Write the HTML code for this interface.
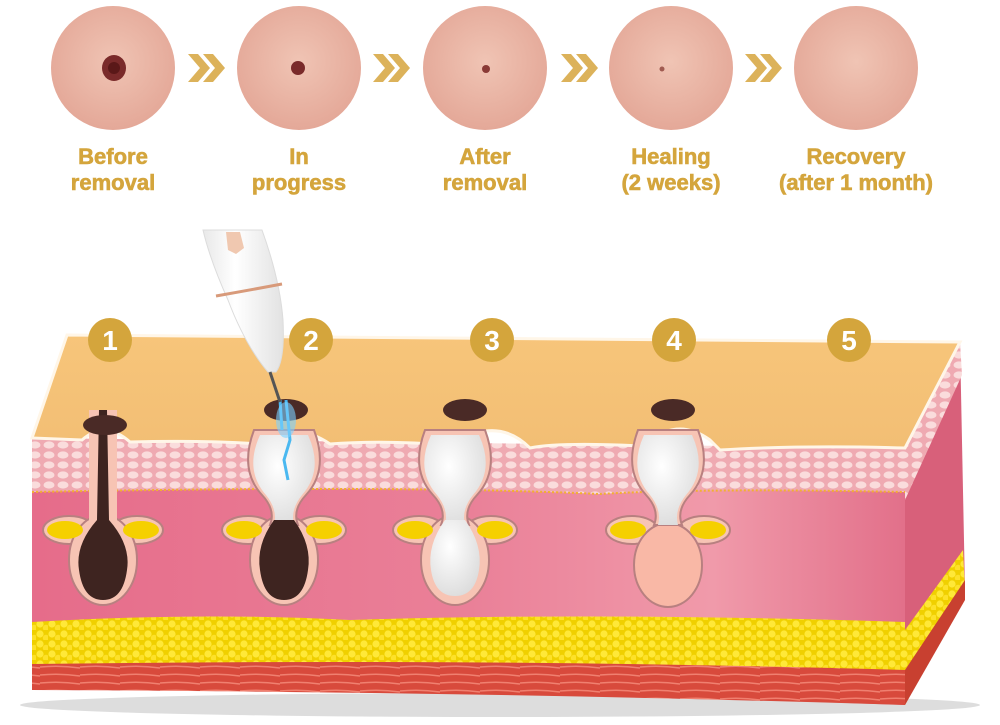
<!DOCTYPE html>
<html><head><meta charset="utf-8"><style>
html,body{margin:0;padding:0;background:#fff;width:1000px;height:725px;overflow:hidden}
</style></head><body>
<svg width="1000" height="725" viewBox="0 0 1000 725" xmlns="http://www.w3.org/2000/svg" font-family="Liberation Sans, sans-serif">
<defs>
<radialGradient id="sk" cx="50%" cy="45%" r="55%"><stop offset="0" stop-color="#f0c4b4"/><stop offset="1" stop-color="#e4a898"/></radialGradient>
<linearGradient id="derm" x1="0" y1="0" x2="1" y2="0">
<stop offset="0" stop-color="#e66c8a"/><stop offset="0.5" stop-color="#ea8098"/><stop offset="0.78" stop-color="#f09aaa"/><stop offset="1" stop-color="#e2708a"/></linearGradient>
<linearGradient id="top" x1="0" y1="0" x2="0" y2="1"><stop offset="0" stop-color="#f7c57a"/><stop offset="1" stop-color="#f2be74"/></linearGradient>
<pattern id="cells" width="14" height="10" patternUnits="userSpaceOnUse"><rect width="14" height="10" fill="#efaab2"/><ellipse cx="7" cy="5" rx="5.5" ry="3.6" fill="#fadcdc"/></pattern>
<pattern id="fat" width="12" height="10" patternUnits="userSpaceOnUse"><rect width="12" height="10" fill="#f0d000"/><circle cx="4" cy="4" r="3.6" fill="#ffe838"/><circle cx="10" cy="8" r="3.2" fill="#fde12a"/></pattern>
<pattern id="mus" width="40" height="8" patternUnits="userSpaceOnUse"><rect width="40" height="8" fill="#d84a3c"/><path d="M0 3 Q20 1 40 4" stroke="#f08070" stroke-width="1.5" fill="none"/></pattern>
<radialGradient id="wh" cx="40%" cy="35%" r="70%"><stop offset="0" stop-color="#ffffff"/><stop offset="1" stop-color="#dcdcdc"/></radialGradient>
<linearGradient id="pen" x1="0" y1="0" x2="1" y2="0"><stop offset="0" stop-color="#e8e8e8"/><stop offset="0.4" stop-color="#ffffff"/><stop offset="1" stop-color="#e2e2e2"/></linearGradient>
</defs>

<g>
<circle cx="113" cy="68" r="62" fill="url(#sk)"/>
<circle cx="299" cy="68" r="62" fill="url(#sk)"/>
<circle cx="485" cy="68" r="62" fill="url(#sk)"/>
<circle cx="671" cy="68" r="62" fill="url(#sk)"/>
<circle cx="856" cy="68" r="62" fill="url(#sk)"/>
<ellipse cx="114" cy="68" rx="12" ry="13" fill="#7a2a2a"/><ellipse cx="114" cy="68" rx="6" ry="6" fill="#5a1818"/>
<ellipse cx="298" cy="68" rx="7" ry="7" fill="#7a2a2a"/>
<ellipse cx="486" cy="69" rx="4" ry="4" fill="#8a3a36"/>
<ellipse cx="662" cy="69" rx="2.5" ry="2.5" fill="#a05a50"/>
</g>
<g fill="#dcb25a">
<path d="M188 54 h10 l12 14 -12 14 h-10 l12 -14z"/><path d="M203 54 h10 l12 14 -12 14 h-10 l12 -14z"/>
<path d="M373 54 h10 l12 14 -12 14 h-10 l12 -14z"/><path d="M388 54 h10 l12 14 -12 14 h-10 l12 -14z"/>
<path d="M561 54 h10 l12 14 -12 14 h-10 l12 -14z"/><path d="M576 54 h10 l12 14 -12 14 h-10 l12 -14z"/>
<path d="M745 54 h10 l12 14 -12 14 h-10 l12 -14z"/><path d="M760 54 h10 l12 14 -12 14 h-10 l12 -14z"/>
</g>
<g fill="#d4a53c" font-weight="bold" font-size="22" text-anchor="middle" stroke="#d4a53c" stroke-width="0.6">
<text x="113" y="164">Before</text><text x="113" y="190">removal</text>
<text x="299" y="164">In</text><text x="299" y="190">progress</text>
<text x="485" y="164">After</text><text x="485" y="190">removal</text>
<text x="671" y="164">Healing</text><text x="671" y="190">(2 weeks)</text>
<text x="856" y="164">Recovery</text><text x="856" y="190">(after 1 month)</text>
</g>

<ellipse cx="500" cy="705" rx="480" ry="12" fill="#ddd"/>
<path d="M905 448 L960 342 L965 590 L905 705Z" fill="#d8607a"/>
<path d="M905 448 L960 342 L962 375 L905 500Z" fill="url(#cells)"/>
<path d="M905 630 L963 550 L965 590 L905 705Z" fill="url(#fat)"/>
<path d="M905 670 L965 580 L965 600 L905 705Z" fill="#c84030"/>
<path d="M32 440 L905 448 L905 705 Q500 690 32 690Z" fill="url(#derm)"/>
<path d="M32 438 L905 448 L905 492 Q700 488 600 494 Q400 485 32 492Z" fill="url(#cells)"/>
<path d="M32 492 Q400 485 600 494 Q700 488 905 492" stroke="#f2b030" stroke-width="2" stroke-dasharray="2 2" fill="none"/>
<path d="M32 622 Q200 612 350 620 Q600 612 905 622 L905 672 Q500 660 32 665Z" fill="url(#fat)"/>
<path d="M32 664 Q500 658 905 670 L905 705 Q500 692 32 690Z" fill="url(#mus)"/>
<path d="M32 438 L67 335 L960 342 L905 448 Q800 445 720 450 L710 440 Q680 418 650 440 L640 446 Q560 442 530 448 Q500 418 460 440 L450 445 Q380 440 330 444 Q295 420 262 444 Q200 440 130 442 Q105 420 82 440Z" fill="url(#top)" stroke="#fff6e8" stroke-width="3"/>

<g transform="translate(103,0)">
<ellipse cx="-34" cy="530" rx="26" ry="14" fill="#f7c4b4" stroke="#b88080" stroke-width="2"/>
<ellipse cx="34" cy="530" rx="26" ry="14" fill="#f7c4b4" stroke="#b88080" stroke-width="2"/>
<ellipse cx="0" cy="560" rx="34" ry="45" fill="#f7c4b4" stroke="#b88080" stroke-width="2"/>
<rect x="-14" y="410" width="28" height="120" fill="#f7c4b4"/>
<ellipse cx="-38" cy="530" rx="18" ry="9" fill="#f5d000"/><ellipse cx="38" cy="530" rx="18" ry="9" fill="#f5d000"/>
<path d="M-4 410 L4 410 L6 520 Q28 545 24 570 Q20 600 0 600 Q-20 600 -24 570 Q-28 545 -6 520Z" fill="#3e2420"/>
<ellipse cx="2" cy="425" rx="22" ry="10" fill="#4a2a26"/>
</g>
<g transform="translate(284,0)">
<ellipse cx="-36" cy="530" rx="26" ry="14" fill="#f7c4b4" stroke="#b88080" stroke-width="2"/>
<ellipse cx="36" cy="530" rx="26" ry="14" fill="#f7c4b4" stroke="#b88080" stroke-width="2"/>
<ellipse cx="0" cy="560" rx="34" ry="45" fill="#f7c4b4" stroke="#b88080" stroke-width="2"/>
<ellipse cx="-40" cy="530" rx="18" ry="9" fill="#f5d000"/><ellipse cx="40" cy="530" rx="18" ry="9" fill="#f5d000"/>
<path d="M-30 430 Q-45 470 -22 495 Q-8 510 -14 525 L14 525 Q8 510 22 495 Q45 470 30 430Z" fill="#f7c4b4" stroke="#b88080" stroke-width="2"/>
<path d="M-24 435 Q-40 470 -18 495 Q-6 510 -10 525 L10 525 Q6 510 18 495 Q40 470 24 435Z" fill="url(#wh)"/>
<path d="M-10 520 Q-28 545 -24 570 Q-20 600 0 600 Q20 600 24 570 Q28 545 10 520Z" fill="#3e2420"/>
<ellipse cx="2" cy="410" rx="22" ry="11" fill="#4a2a26"/>
<path d="M-4 400 L-2 430 M2 400 L6 440 L0 460 L4 480" stroke="#4ab8f0" stroke-width="3" fill="none"/>
<ellipse cx="2" cy="420" rx="10" ry="18" fill="#7cd0ff" opacity="0.6"/>
</g>
<g transform="translate(455,0)">
<ellipse cx="-36" cy="530" rx="26" ry="14" fill="#f7c4b4" stroke="#b88080" stroke-width="2"/>
<ellipse cx="36" cy="530" rx="26" ry="14" fill="#f7c4b4" stroke="#b88080" stroke-width="2"/>
<ellipse cx="0" cy="560" rx="34" ry="45" fill="#f7c4b4" stroke="#b88080" stroke-width="2"/>
<ellipse cx="-40" cy="530" rx="18" ry="9" fill="#f5d000"/><ellipse cx="40" cy="530" rx="18" ry="9" fill="#f5d000"/>
<path d="M-30 430 Q-45 470 -22 495 Q-8 510 -14 525 L14 525 Q8 510 22 495 Q45 470 30 430Z" fill="#f7c4b4" stroke="#b88080" stroke-width="2"/>
<path d="M-24 435 Q-40 470 -18 495 Q-6 510 -10 525 L10 525 Q6 510 18 495 Q40 470 24 435Z" fill="url(#wh)"/>
<path d="M-10 520 Q-28 545 -24 570 Q-20 596 0 596 Q20 596 24 570 Q28 545 10 520Z" fill="url(#wh)"/>
<ellipse cx="10" cy="410" rx="22" ry="11" fill="#4a2a26"/>
</g>
<g transform="translate(668,0)">
<ellipse cx="-36" cy="530" rx="26" ry="14" fill="#f7c4b4" stroke="#b88080" stroke-width="2"/>
<ellipse cx="36" cy="530" rx="26" ry="14" fill="#f7c4b4" stroke="#b88080" stroke-width="2"/>
<ellipse cx="0" cy="565" rx="34" ry="42" fill="#f9b8a6" stroke="#b88080" stroke-width="2"/>
<ellipse cx="-40" cy="530" rx="18" ry="9" fill="#f5d000"/><ellipse cx="40" cy="530" rx="18" ry="9" fill="#f5d000"/>
<path d="M-30 430 Q-45 470 -22 495 Q-8 510 -14 525 L14 525 Q8 510 22 495 Q45 470 30 430Z" fill="#f7c4b4" stroke="#b88080" stroke-width="2"/>
<path d="M-24 435 Q-40 470 -18 495 Q-6 510 -10 525 L10 525 Q6 510 18 495 Q40 470 24 435Z" fill="url(#wh)"/>
<ellipse cx="5" cy="410" rx="22" ry="11" fill="#4a2a26"/>
</g>

<!-- pen -->
<path d="M203 230 L262 230 Q280 280 283 320 Q285 360 276 372 L268 372 Q245 345 228 300 Q210 260 203 230Z" fill="url(#pen)" stroke="#dcdcdc"/>
<path d="M216 296 Q250 290 282 284" stroke="#d89a7a" stroke-width="3" fill="none"/>
<path d="M226 232 L240 232 L244 248 L236 254 L228 250Z" fill="#f0c8b0"/>
<path d="M270 372 L280 402" stroke="#555" stroke-width="3"/>

<g font-weight="bold" font-size="28" fill="#fff" text-anchor="middle">
<circle cx="110" cy="340" r="22" fill="#d4a53c"/><text x="110" y="350">1</text>
<circle cx="311" cy="340" r="22" fill="#d4a53c"/><text x="311" y="350">2</text>
<circle cx="492" cy="340" r="22" fill="#d4a53c"/><text x="492" y="350">3</text>
<circle cx="674" cy="340" r="22" fill="#d4a53c"/><text x="674" y="350">4</text>
<circle cx="849" cy="340" r="22" fill="#d4a53c"/><text x="849" y="350">5</text>
</g>
</svg>
</body></html>
